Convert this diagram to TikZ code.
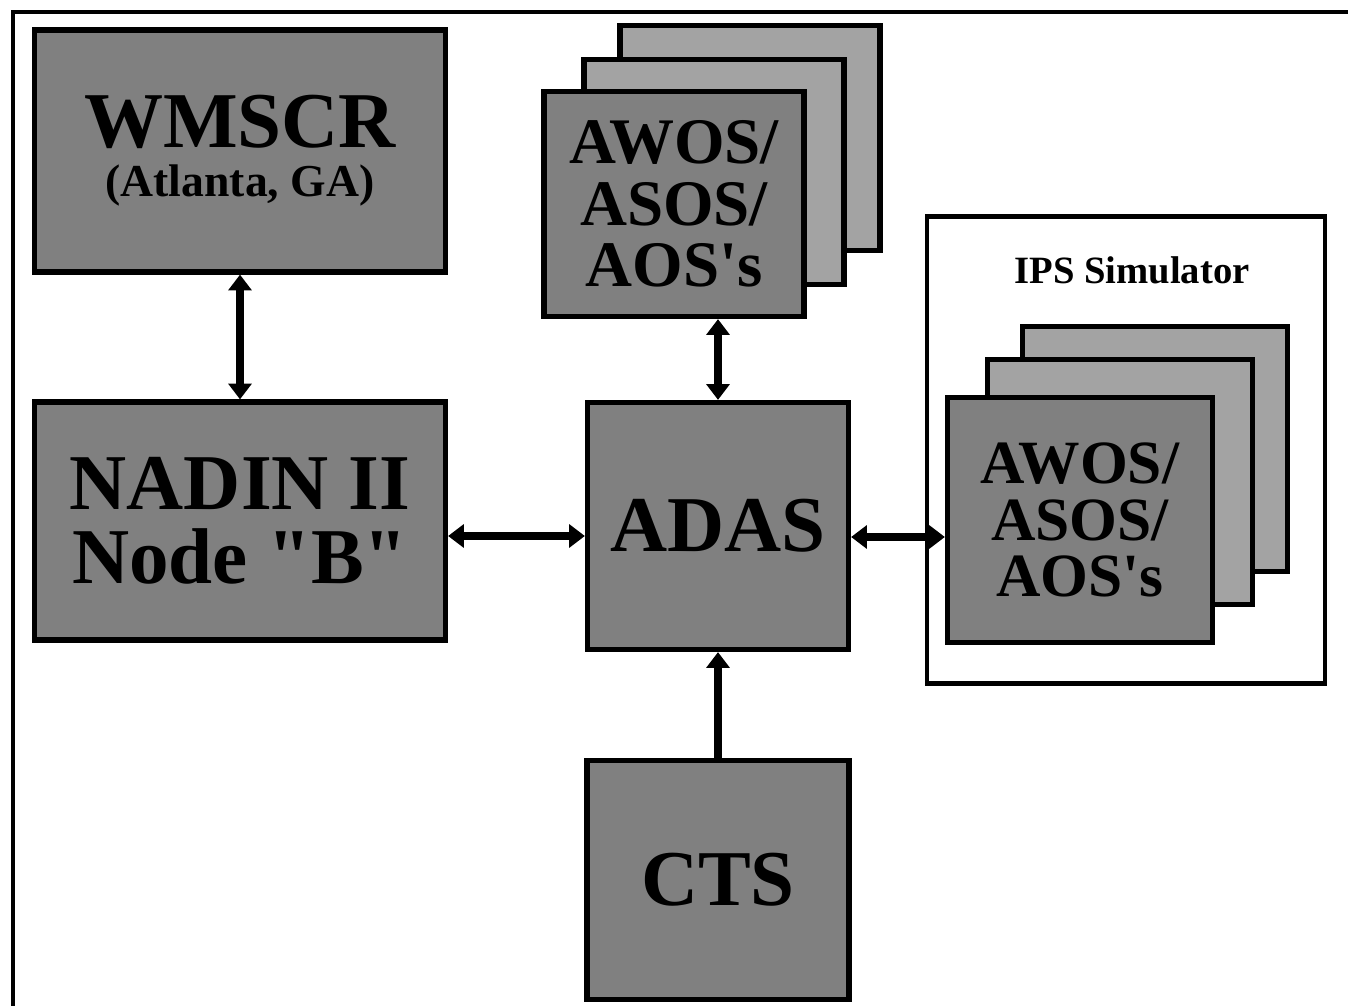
\documentclass[tikz,border=0pt]{standalone}
\usepackage{fontspec}
\setmainfont{Liberation Serif}
\usetikzlibrary{arrows.meta}

\begin{document}
\begin{tikzpicture}[thick, x=0.02cm, y=-0.02cm,
  box/.style={draw, line width=3pt, fill=black!50, align=center, inner sep=0pt},
  backbox/.style={box, fill=black!36},
  big/.style={font=\fontsize{45}{42}\selectfont\bfseries},
  stacktext/.style={font=\fontsize{37}{35}\selectfont\bfseries},
  simtext/.style={font=\fontsize{35}{32}\selectfont\bfseries},
  link/.style={line width=4pt, {Triangle[length=9pt,width=13pt]}-{Triangle[length=9pt,width=13pt]}}]
\clip (0,0) rectangle (1348,1006);

% frame
\draw[line width=2pt] (13,12) rectangle (1380,1040);

% left column
\node[box, big, minimum width=8.22cm, minimum height=4.84cm] (wmscr) at (240,151)
  {WMSCR\\[-14pt]{\fontsize{26}{28}\selectfont (Atlanta, GA)}};
\node[box, big, minimum width=8.22cm, minimum height=4.76cm] (nadin) at (240,521)
  {NADIN II\\Node \textquotedbl B\textquotedbl};

% middle column
\node[backbox, minimum width=5.2cm, minimum height=4.5cm] (awos3) at (750,138) {};
\node[backbox, minimum width=5.2cm, minimum height=4.5cm] (awos2) at (714,172) {};
\node[box, stacktext, minimum width=5.2cm, minimum height=4.5cm] (awos1) at (674,204)
  {AWOS/\\ASOS/\\AOS\textquotesingle s};
\node[box, big, minimum width=5.22cm, minimum height=4.94cm] (adas) at (718,526) {ADAS};
\node[box, big, minimum width=5.24cm, minimum height=4.78cm] (cts) at (718,880) {CTS};

% simulator
\node[draw, line width=2.5pt, fill=white, minimum width=7.96cm, minimum height=9.34cm] (ips) at (1126,450) {};
\node[font=\fontsize{22}{24}\selectfont\bfseries] (ipstitle) at (1132,270) {IPS Simulator};
\node[backbox, minimum width=5.3cm, minimum height=4.9cm] (sim3) at (1155,449) {};
\node[backbox, minimum width=5.3cm, minimum height=4.9cm] (sim2) at (1120,482) {};
\node[box, simtext, minimum width=5.3cm, minimum height=4.9cm] (sim1) at (1080,520)
  {AWOS/\\ASOS/\\AOS\textquotesingle s};

% links
\draw[link] (wmscr) -- (nadin);
\draw[link] (awos1.south -| adas.north) -- (adas.north);
\coordinate (n1) at ([yshift=-0.3cm]nadin.east);
\draw[link] (n1) -- (n1 -| adas.west);
\coordinate (a1) at ([yshift=-0.22cm]adas.east);
\draw[link] (a1) -- (a1 -| sim1.west);
\draw[line width=4pt, -{Triangle[length=9pt,width=13pt]}] (cts) -- (adas);
\end{tikzpicture}
\end{document}
